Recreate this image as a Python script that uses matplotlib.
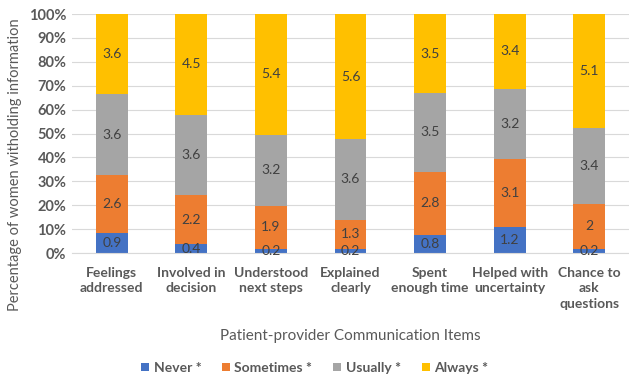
import numpy as np
import matplotlib
matplotlib.use('Agg')
from matplotlib import pyplot as plt
from matplotlib.ticker import PercentFormatter

plt.rcParams['font.family'] = ['Lato', 'DejaVu Sans']

items = ['Feelings\naddressed', 'Involved in\ndecision', 'Understood\nnext steps',
         'Explained\nclearly', 'Spent\nenough time', 'Helped with\nuncertainty',
         'Chance to\nask\nquestions']
series = ['Never *', 'Sometimes *', 'Usually *', 'Always *']
never = [0.9, 0.4, 0.2, 0.2, 0.8, 1.2, 0.2]
sometimes = [2.6, 2.2, 1.9, 1.3, 2.8, 3.1, 2]
usually = [3.6, 3.6, 3.2, 3.6, 3.5, 3.2, 3.4]
always = [3.6, 4.5, 5.4, 5.6, 3.5, 3.4, 5.1]
colors = ['#4472C4', '#ED7D31', '#A5A5A5', '#FFC000']

vals = np.array([never, sometimes, usually, always], dtype=float)
share = vals / vals.sum(axis=0)

fig = plt.figure(figsize=(6.29, 3.8), dpi=100)
ax = fig.add_axes([0.1145, 0.334, 0.8855, 0.629])

x = np.arange(len(items))
bottom = np.zeros(len(items))
txt = '#404040'
for i, name in enumerate(series):
    ax.bar(x, share[i], 0.4, bottom=bottom, color=colors[i], label=name, zorder=2)
    for xi, b, h, v in zip(x, bottom, share[i], vals[i]):
        ax.text(xi, b + h / 2, '%g' % v, ha='center', va='center',
                fontsize=10, color=txt, zorder=3)
    bottom += share[i]

ax.set_xlim(-0.5, len(items) - 0.5)
ax.set_ylim(0, 1)
ax.set_yticks(np.arange(0, 1.01, 0.1))
ax.yaxis.set_major_formatter(PercentFormatter(1.0, decimals=0))
ax.set_xticks(x)
ax.set_xticklabels(items, linespacing=1.35)
ax.grid(axis='y', color='#D9D9D9', lw=0.8, zorder=0)
for s in ax.spines.values():
    s.set_visible(False)
ax.spines['bottom'].set_visible(True)
ax.spines['bottom'].set_color('#D9D9D9')
ax.tick_params(length=0, labelsize=10, labelcolor='#595959')
ax.tick_params(axis='x', pad=10)
ax.tick_params(axis='y', pad=4, labelsize=10.5)
for lab in ax.get_xticklabels() + ax.get_yticklabels():
    lab.set_fontweight('bold')

ax.set_xlabel('Patient-provider Communication Items', fontsize=11, color='#595959', labelpad=14)
ax.set_ylabel('Percentage of women witholding information', fontsize=10.5, color='#595959')
ax.yaxis.set_label_coords(-0.09, 0.368)

fig.legend(*ax.get_legend_handles_labels(), loc='center', bbox_to_anchor=(0.5, 0.032),
           ncol=4, frameon=False, handlelength=0.6, handleheight=0.6, columnspacing=1.5,
           handletextpad=0.3, labelcolor='#595959', prop={'weight': 'bold', 'size': 10})

fig.savefig('out.png', dpi=100)
